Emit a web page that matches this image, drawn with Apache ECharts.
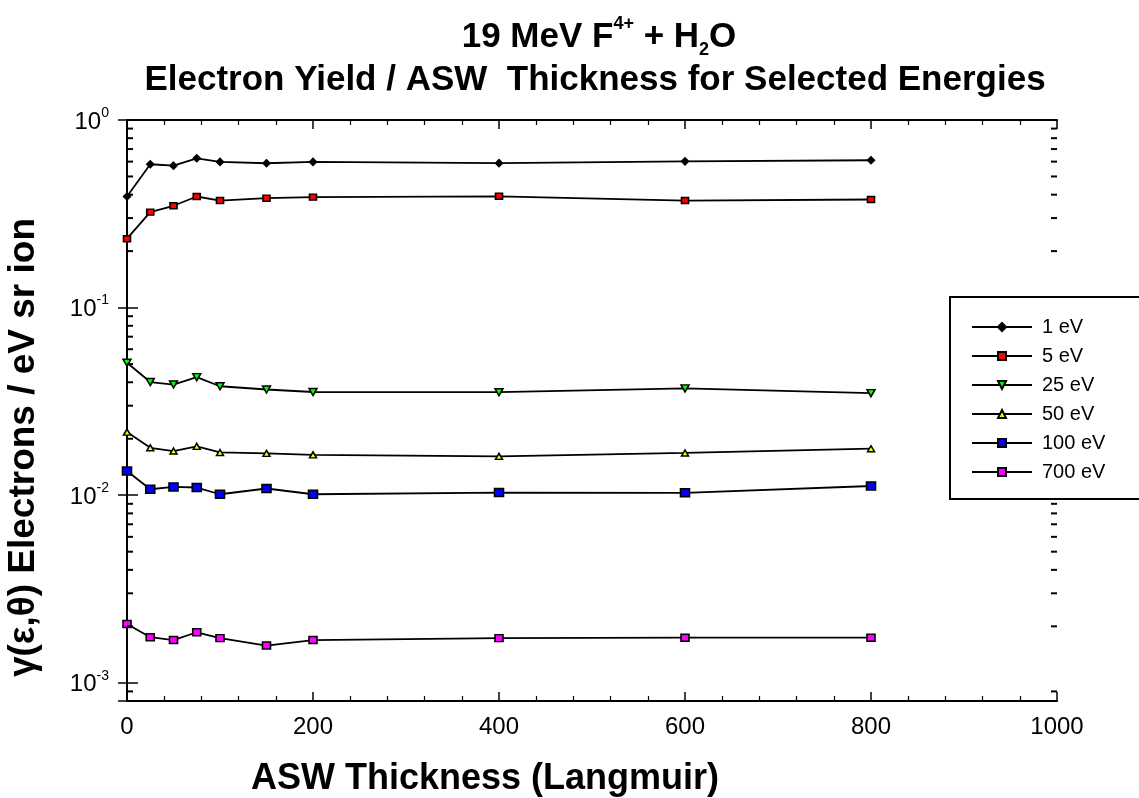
<!DOCTYPE html>
<html><head><meta charset="utf-8">
<script src="https://cdn.jsdelivr.net/npm/echarts@6/dist/echarts.min.js"></script>
<style>html,body{margin:0;padding:0;background:#fff}#c{width:1139px;height:798px}</style>
</head><body><div id="c"></div>
<script>
// ---- data ----
const thickness = [0, 25, 50, 75, 100, 150, 200, 400, 600, 800];
const seriesNames = ['1 eV', '5 eV', '25 eV', '50 eV', '100 eV', '700 eV'];
const y1eV   = [0.391, 0.581, 0.571, 0.625, 0.598, 0.588, 0.598, 0.589, 0.602, 0.610];
const y5eV   = [0.233, 0.323, 0.349, 0.391, 0.372, 0.383, 0.388, 0.392, 0.372, 0.377];
const y25eV  = [0.0508, 0.0401, 0.0389, 0.0426, 0.0381, 0.0366, 0.0355, 0.0354, 0.0371, 0.0350];
const y50eV  = [0.0217, 0.0179, 0.0172, 0.0182, 0.0169, 0.0167, 0.0164, 0.0161, 0.0168, 0.0177];
const y100eV = [0.01346, 0.01076, 0.01107, 0.01099, 0.01012, 0.01086, 0.01012, 0.01033, 0.0103, 0.0112];
const y700eV = [0.00206, 0.00175, 0.00169, 0.00186, 0.00173, 0.00158, 0.00169, 0.00173, 0.00174, 0.00174];
const xTickLabels = [0, 200, 400, 600, 800, 1000];
const yDecadeExponents = [-4, -3, -2, -1];
const yMin = 0.0008, yMax = 1;
const xMin = 0, xMax = 1000;

const FONT = '"Liberation Sans", Arial, Helvetica, sans-serif';

// minor log ticks (2..9 x 10^k) inside the axis range
const minorTickValues = [];
yDecadeExponents.forEach(function (e) {
  for (let m = 2; m <= 9; m++) {
    const v = m * Math.pow(10, e);
    if (v > yMin * 1.0001 && v < yMax) minorTickValues.push(v);
  }
});

const allY = [y1eV, y5eV, y25eV, y50eV, y100eV, y700eV];
const colors = ['#000000', '#ff0000', '#00ff00', '#ffff00', '#0000ff', '#ff00ff'];
const symbols = ['diamond', 'rect', 'triangle', 'triangle', 'rect', 'rect'];
const symRot = [0, 0, 180, 0, 0, 0];
const symSize = [[7, 7], [7, 6], [8, 7], [7, 6], [9, 8], [8, 7]];

const lineSeries = allY.map(function (arr, i) {
  return {
    name: seriesNames[i],
    type: 'line',
    data: thickness.map(function (x, j) { return [x, arr[j]]; }),
    symbol: symbols[i],
    symbolRotate: symRot[i],
    symbolSize: symSize[i],
    showAllSymbol: true,
    lineStyle: { color: '#000', width: 1.8 },
    itemStyle: { color: colors[i], borderColor: '#000', borderWidth: 1.5 },
    emphasis: { disabled: true },
    z: 3
  };
});

const tickSeries = {
  type: 'custom',
  silent: true,
  clip: false,
  z: 4,
  data: minorTickValues.map(function (v) { return [xMin, v]; }),
  renderItem: function (params, api) {
    const v = api.value(1);
    const pL = api.coord([xMin, v]);
    const pR = api.coord([xMax, v]);
    return {
      type: 'group',
      children: [
        { type: 'line', shape: { x1: pL[0], y1: pL[1], x2: pL[0] + 6, y2: pL[1] }, style: { stroke: '#000', lineWidth: 2 } },
        { type: 'line', shape: { x1: pR[0] - 6, y1: pR[1], x2: pR[0], y2: pR[1] }, style: { stroke: '#000', lineWidth: 2 } }
      ]
    };
  }
};

function yLabel(value) {
  const lg = Math.log10(value);
  const e = Math.round(lg);
  if (Math.abs(lg - e) > 1e-6) return '';
  return '{b|10}{s|' + e + '}';
}

function xLabel(value) {
  return xTickLabels.indexOf(value) >= 0 ? String(value) : '';
}

const chart = echarts.init(document.getElementById('c'), null, { renderer: 'canvas' });
chart.setOption({
  backgroundColor: '#ffffff',
  animation: false,
  textStyle: { fontFamily: FONT },
  title: [
    {
      text: '{a|19 MeV F}{sup|4+}{a| + H}{sub|2}{a|O}',
      left: 594, textAlign: 'center', top: 10,
      textStyle: {
        rich: {
          a: { fontFamily: FONT, fontWeight: 'bold', fontSize: 35, color: '#000', lineHeight: 44, verticalAlign: 'middle' },
          sup: { fontFamily: FONT, fontWeight: 'bold', fontSize: 18, color: '#000', lineHeight: 18, verticalAlign: 'top' },
          sub: { fontFamily: FONT, fontWeight: 'bold', fontSize: 18, color: '#000', lineHeight: 18, verticalAlign: 'bottom' }
        }
      }
    },
    {
      text: 'Electron Yield / ASW  Thickness for Selected Energies',
      left: 590, textAlign: 'center', top: 58,
      textStyle: { fontFamily: FONT, fontWeight: 'bold', fontSize: 35, color: '#000' }
    },
    {
      text: 'ASW Thickness (Langmuir)',
      left: 480, textAlign: 'center', top: 756,
      textStyle: { fontFamily: FONT, fontWeight: 'bold', fontSize: 36, color: '#000' }
    }
  ],
  grid: { left: 127, right: 82, top: 120, bottom: 97, containLabel: false, outerBoundsMode: 'none' },
  legend: {
    orient: 'vertical',
    left: 966, top: 312,
    itemWidth: 60, itemHeight: 10, itemGap: 9,
    data: seriesNames,
    selectedMode: false,
    textStyle: { fontFamily: FONT, fontSize: 20, color: '#000', lineHeight: 20, padding: [0, 0, 0, 5] },
    z: 100
  },
  graphic: [
    {
      type: 'rect', z: 90,
      shape: { x: 950, y: 297, width: 220, height: 202 },
      style: { fill: '#fff', stroke: '#000', lineWidth: 2 }
    }
  ],
  xAxis: [
    {
      type: 'value', min: xMin, max: xMax, interval: 200,
      axisLine: { show: true, onZero: false, lineStyle: { color: '#000', width: 2 } },
      axisTick: { show: true, inside: true, length: 9, lineStyle: { color: '#000', width: 1.5 } },
      minorTick: { show: true, splitNumber: 5, length: 5, lineStyle: { color: '#000', width: 1.2 } },
      splitLine: { show: false },
      axisLabel: { fontFamily: FONT, fontSize: 24, color: '#000', margin: 14, formatter: xLabel }
    },
    {
      type: 'value', position: 'top', min: xMin, max: xMax, interval: 200,
      axisLine: { show: true, onZero: false, lineStyle: { color: '#000', width: 2 } },
      axisTick: { show: true, inside: true, length: 9, lineStyle: { color: '#000', width: 1.5 } },
      minorTick: { show: true, splitNumber: 5, length: 5, lineStyle: { color: '#000', width: 1.2 } },
      splitLine: { show: false },
      axisLabel: { show: false }
    }
  ],
  yAxis: [
    {
      type: 'log', logBase: 10, min: yMin, max: yMax,
      name: '\u03b3(\u03b5,\u03b8) Electrons / eV sr ion',
      nameLocation: 'middle', nameGap: 85, nameRotate: 90,
      nameTextStyle: { fontFamily: FONT, fontWeight: 'bold', fontSize: 37, color: '#000', padding: [0, 74, 0, 0] },
      axisLine: { show: true, onZero: false, lineStyle: { color: '#000', width: 2 } },
      axisTick: { show: true, inside: true, length: 11, lineStyle: { color: '#000', width: 1.5 } },
      splitLine: { show: false },
      minorSplitLine: { show: false },
      axisLabel: {
        showMinLabel: false,
        margin: 18,
        formatter: yLabel,
        rich: {
          b: { fontFamily: FONT, fontSize: 24, color: '#000', lineHeight: 28, verticalAlign: 'bottom' },
          s: { fontFamily: FONT, fontSize: 14, color: '#000', lineHeight: 15, verticalAlign: 'top' }
        }
      }
    },
    {
      type: 'log', logBase: 10, min: yMin, max: yMax, position: 'right',
      axisLine: { show: false },
      axisTick: { show: true, inside: true, length: 9, lineStyle: { color: '#000', width: 1.5 } },
      splitLine: { show: false },
      axisLabel: { show: false }
    }
  ],
  series: lineSeries.concat([tickSeries])
});
</script>
</body></html>
